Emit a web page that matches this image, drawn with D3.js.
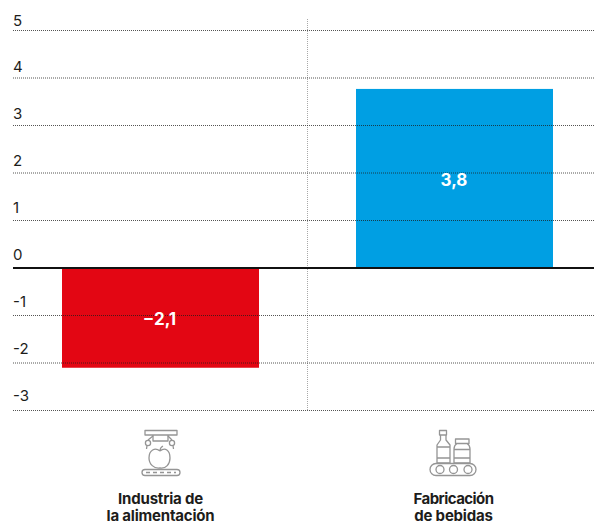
<!DOCTYPE html>
<html><head><meta charset="utf-8">
<script src="https://cdn.jsdelivr.net/npm/d3@7"></script>
<style>html,body{margin:0;padding:0;background:#fff}svg{display:block}text{font-family:Inter,Roboto,"Liberation Sans",sans-serif}</style>
</head><body><svg id="c" width="594" height="522"></svg>
<script>
const categories = [["Industria de","la alimentación"],["Fabricación","de bebidas"]];
const values = [-2.1, 3.77];
const valueLabels = ["−2,1","3,8"];
const colors = ["#e30613","#009fe3"];
const ticks = [5,4,3,2,1,0,-1,-2,-3];
const tickLabels = ["5","4","3","2","1","0","-1","-2","-3"];

const svg = d3.select("#c");
const y = d3.scaleLinear().domain([-3,5]).range([410.5,30.5]);
const yLabel = d3.scaleLinear().domain([-3,5]).range([400.7,25.5]);
const barW = 197;
const cx = i => [160.5,454.5][i];

svg.append("line").attr("x1",307.5).attr("x2",307.5).attr("y1",19).attr("y2",410)
  .attr("stroke","#a8a8a8").attr("stroke-width",1).attr("stroke-dasharray","1 1");

svg.selectAll("rect.bar").data(values).join("rect").attr("class","bar")
  .attr("x",(d,i)=>cx(i)-barW/2).attr("width",barW)
  .attr("y",d=>Math.min(y(d),y(0))).attr("height",d=>Math.abs(y(d)-y(0)))
  .attr("fill",(d,i)=>colors[i]);

ticks.filter(t=>t!==0).forEach(t=>{
  svg.append("line").attr("x1",13).attr("x2",594).attr("y1",y(t)).attr("y2",y(t))
    .attr("stroke","#1d1d1b").attr("stroke-width",1).attr("stroke-dasharray","1 1").attr("opacity",0.75);
});
svg.append("line").attr("x1",13).attr("x2",594).attr("y1",y(0)).attr("y2",y(0))
  .attr("stroke","#111").attr("stroke-width",2);

svg.selectAll("text.t").data(ticks).join("text").attr("class","t")
  .attr("x",13).attr("y",d=>yLabel(d)).attr("font-size",15).attr("fill","#1d1d1b")
  .text((d,i)=>tickLabels[i]);

svg.selectAll("text.v").data(values).join("text").attr("class","v")
  .attr("x",(d,i)=>cx(i)-(i?0.5:1)).attr("y",(d,i)=>(y(d)+y(0))/2+(i?7.5:7))
  .attr("text-anchor","middle").attr("font-size",17).attr("font-weight",700).attr("fill","#fff")
  .text((d,i)=>valueLabels[i]);

categories.forEach((c,i)=>c.forEach((l,j)=>{
  svg.append("text").attr("x",cx(i)-(i?1:0)).attr("y",503.5+j*17).attr("text-anchor","middle")
    .attr("font-size",15).attr("font-weight",700)
    .attr("letter-spacing",(i===1&&j===0)?-0.55:-0.2).attr("fill","#1d1d1b").text(l);
}));

const ic = "#959595";
const g1 = svg.append("g").attr("fill","none").attr("stroke",ic).attr("stroke-width",1.3).attr("stroke-linejoin","round");
g1.append("path").attr("d","M145 430.5H177V435H145ZM153 435V441H168V435");
g1.append("path").attr("d","M153 436L148 440M168 436L172 440");
g1.append("circle").attr("cx",148).attr("cy",443).attr("r",2.6);
g1.append("circle").attr("cx",172).attr("cy",443).attr("r",2.6);
g1.append("path").attr("d","M147 445.5L146.5 449M173 445.5L173.5 449");
g1.append("path").attr("d","M160 451C155 447 149 450 149 458C149 464 154 469 160 468C166 469 170 464 170 458C170 450 165 447 160 451M160 451C160 448 161 447 163 446");
g1.append("rect").attr("x",142).attr("y",469.5).attr("width",38).attr("height",6).attr("rx",3);
g1.append("path").attr("d","M146 472.5H176").attr("stroke-dasharray","4 3");
const g2 = svg.append("g").attr("fill","none").attr("stroke",ic).attr("stroke-width",1.3).attr("stroke-linejoin","round");
g2.append("path").attr("d","M439.5 430.5H446.5V435H439.5ZM440.5 435V440L437 445V463H450V445L446 440V435M437 447H450M437 458H450");
g2.append("path").attr("d","M455.5 439H469V443.5H455.5ZM457 443.5C454.5 445 454 446 454 449V463H470V449C470 446 469.5 445 467 443.5M454 449.5H470M454 458H470");
g2.append("rect").attr("x",430).attr("y",463.5).attr("width",46).attr("height",12).attr("rx",6);
[440,453.5,468].forEach(a=>g2.append("circle").attr("cx",a).attr("cy",469.5).attr("r",4));
</script></body></html>
